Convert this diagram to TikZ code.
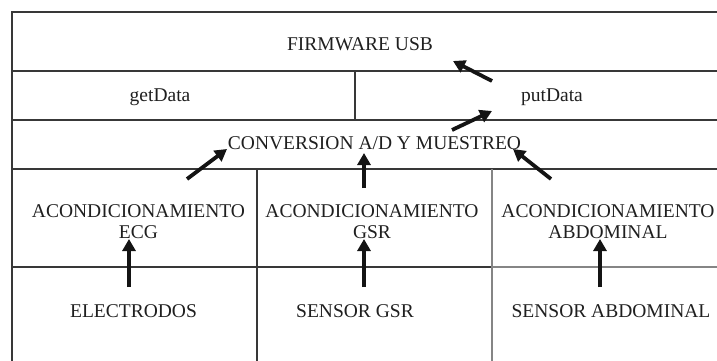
\documentclass[tikz,border=0pt]{standalone}
\usepackage{fontspec}
\setmainfont{Liberation Serif}
\usetikzlibrary{arrows.meta}
\begin{document}
\begin{tikzpicture}[x=1pt,y=-1pt,
  rule/.style={draw=black!78, line width=1.2pt},
  rulelight/.style={draw=black!48, line width=1.2pt},
  lbl/.style={font=\fontsize{19.5}{21}\selectfont, align=center, inner sep=0pt, text=black!88},
  flow/.style={draw=black!92, line width=3.8pt, -{Triangle[length=12pt,width=13pt]}}]
\useasboundingbox (0,0) rectangle (717,361);

% layer grid
\draw[rule] (717,12) -- (12,12) -- (12,361);
\draw[rule] (12,71) -- (717,71);
\draw[rule] (12,120) -- (717,120);
\draw[rule] (12,169) -- (717,169);
\draw[rule] (12,267) -- (492,267);
\draw[rulelight] (492,267) -- (717,267);
\draw[rule] (355,71) -- (355,120);
\draw[rule] (257,169) -- (257,361);
\draw[rulelight] (492,169) -- (492,361);

% labels
\node[lbl, anchor=base] (fw) at (360,51) {FIRMWARE USB};
\node[lbl, anchor=base] (get) at (160,101) {getData};
\node[lbl, anchor=base] (put) at (552,101) {putData};
\node[lbl, anchor=base] (adc) at (374.5,149) {CONVERSION A/D Y MUESTREO};
\node[lbl] (aecg) at (138.5,222) {ACONDICIONAMIENTO\\ECG};
\node[lbl] (agsr) at (372,222) {ACONDICIONAMIENTO\\GSR};
\node[lbl] (aabd) at (608,222) {ACONDICIONAMIENTO\\ABDOMINAL};
\node[lbl, anchor=base] (elec) at (133.5,317) {ELECTRODOS};
\node[lbl, anchor=base] (sgsr) at (355,317) {SENSOR GSR};
\node[lbl, anchor=base] (sabd) at (611,317) {SENSOR ABDOMINAL};

% arrow end points
\coordinate (elecT) at (129,287);  \coordinate (aecgH) at (129,239);
\coordinate (sgsrT) at (364,287);  \coordinate (agsrH) at (364,239);
\coordinate (sabdT) at (600,287);  \coordinate (aabdH) at (600,239);
\coordinate (aecgT) at (187,179);  \coordinate (adcL) at (227,149);
\coordinate (agsrT) at (364,188);  \coordinate (adcM) at (364,153);
\coordinate (aabdT) at (551,179);  \coordinate (adcR) at (513,149);
\coordinate (adcT) at (452,130);   \coordinate (putH) at (492,111);
\coordinate (putT) at (492,81);    \coordinate (fwH) at (453,61);

% signal flow
\draw[flow] (elecT) -- (aecgH);
\draw[flow] (sgsrT) -- (agsrH);
\draw[flow] (sabdT) -- (aabdH);
\draw[flow] (aecgT) -- (adcL);
\draw[flow] (agsrT) -- (adcM);
\draw[flow] (aabdT) -- (adcR);
\draw[flow] (adcT) -- (putH);
\draw[flow] (putT) -- (fwH);
\end{tikzpicture}
\end{document}
